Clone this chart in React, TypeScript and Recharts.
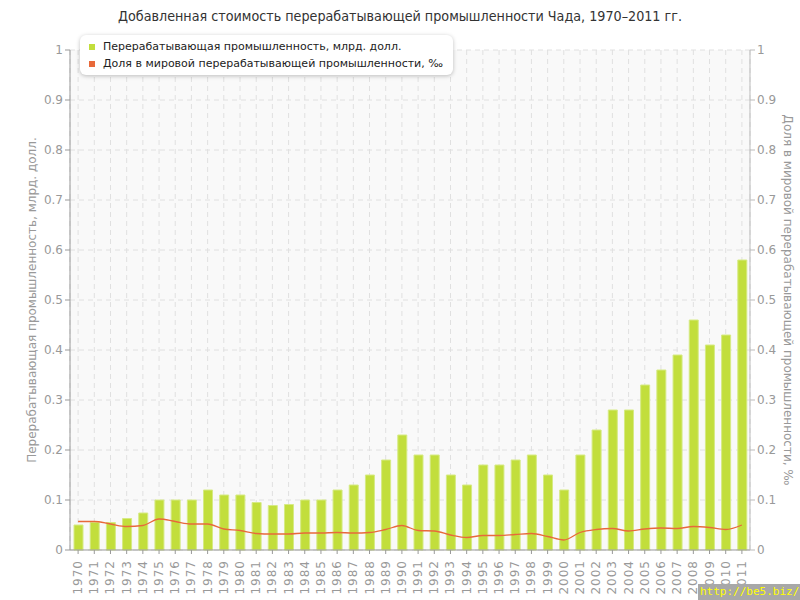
import React from "react";
import { ComposedChart, Bar, Line, XAxis, YAxis, CartesianGrid } from "recharts";

const years = [
  "1970","1971","1972","1973","1974","1975","1976","1977","1978","1979",
  "1980","1981","1982","1983","1984","1985","1986","1987","1988","1989",
  "1990","1991","1992","1993","1994","1995","1996","1997","1998","1999",
  "2000","2001","2002","2003","2004","2005","2006","2007","2008","2009",
  "2010","2011",
];
const valueAdded = [
  0.05, 0.055, 0.055, 0.063, 0.074, 0.1, 0.1, 0.1, 0.12, 0.11,
  0.11, 0.095, 0.089, 0.091, 0.1, 0.1, 0.12, 0.13, 0.15, 0.18,
  0.23, 0.19, 0.19, 0.15, 0.13, 0.17, 0.17, 0.18, 0.19, 0.15,
  0.12, 0.19, 0.24, 0.28, 0.28, 0.33, 0.36, 0.39, 0.46, 0.41,
  0.43, 0.58,
];
const worldShare = [
  0.057, 0.057, 0.052, 0.047, 0.049, 0.062, 0.057, 0.052, 0.052, 0.042,
  0.039, 0.033, 0.032, 0.032, 0.034, 0.034, 0.035, 0.034, 0.035, 0.041,
  0.049, 0.039, 0.038, 0.03, 0.025, 0.029, 0.029, 0.031, 0.033, 0.027,
  0.02, 0.035, 0.041, 0.043, 0.038, 0.042, 0.044, 0.043, 0.047, 0.045,
  0.041, 0.05,
];
const yTicks = [0, 0.1, 0.2, 0.3, 0.4, 0.5, 0.6, 0.7, 0.8, 0.9, 1];
const seriesNames = [
  "Перерабатывающая промышленность, млрд. долл.",
  "Доля в мировой перерабатывающей промышленности, ‰",
];
const title = "Добавленная стоимость перерабатывающей промышленности Чада, 1970–2011 гг.";
const leftLabel = "Перерабатывающая промышленность, млрд. долл.";
const rightLabel = "Доля в мировой перерабатывающей промышленности, ‰";

const data = years.map((y, i) => ({ year: y, va: valueAdded[i], share: worldShare[i] }));

const BAR_COLOR = "#c2de3c";
const LINE_COLOR = "#e8693a";
const FONT = "'DejaVu Sans', Verdana, sans-serif";

const LegendBox = () => (
  <div
    style={{
      position: "absolute",
      left: 80,
      top: 35,
      background: "#fff",
      borderRadius: 6,
      boxShadow: "0 1px 4px rgba(0,0,0,0.25)",
      padding: "3px 10px 3px 9px",
      fontFamily: FONT,
      fontSize: 11,
      color: "#222",
      lineHeight: "17px",
      whiteSpace: "nowrap",
      zIndex: 2,
    }}
  >
    {seriesNames.map((n, i) => (
      <div key={n} style={{ display: "flex", alignItems: "center" }}>
        <span
          style={{
            display: "inline-block",
            width: 6,
            height: 6,
            background: i === 0 ? BAR_COLOR : LINE_COLOR,
            marginRight: 8,
          }}
        />
        {n}
      </div>
    ))}
  </div>
);

const XTick = (props: any) => {
  const { x, y, payload } = props;
  return (
    <text
      x={x + 4}
      y={y + 4}
      transform={`rotate(-90 ${x + 4} ${y + 4})`}
      textAnchor="end"
      fontFamily={FONT}
      fontSize={12}
      fill="#999"
      letterSpacing={1}
    >
      {payload.value}
    </text>
  );
};

export default function App() {
  return (
    <div style={{ position: "absolute", left: 0, top: 0, width: 800, height: 600, background: "#fff" }}>
      <div
        style={{
          position: "absolute",
          top: 8,
          left: 0,
          width: 800,
          textAlign: "center",
          fontFamily: "'DejaVu Sans Condensed', 'DejaVu Sans', sans-serif",
          fontSize: 14.2,
          color: "#333",
        }}
      >
        {title}
      </div>
      <ComposedChart
        width={800}
        height={600}
        data={data}
        margin={{ top: 50, right: 0, bottom: 0, left: 0 }}
        barCategoryGap={0}
      >
        <CartesianGrid
          yAxisId="left"
          stroke="#e0e0e0"
          strokeDasharray="5 4"
          fill="#f9f9f9"
          horizontalValues={yTicks}
        />
        <XAxis
          dataKey="year"
          height={50}
          stroke="#999"
          tickLine={{ stroke: "#999" }}
          tickSize={4}
          interval={0}
          tick={<XTick />}
        />
        <YAxis
          yAxisId="left"
          width={70}
          domain={[0, 1]}
          ticks={yTicks}
          stroke="#999"
          tickSize={5}
          tick={{ fill: "#999", fontSize: 12, fontFamily: FONT }}
          label={{
            value: leftLabel,
            angle: -90,
            position: "insideLeft",
            offset: 32,
            style: { textAnchor: "middle", fill: "#999", fontSize: 12, fontFamily: FONT },
          }}
        />
        <YAxis
          yAxisId="right"
          orientation="right"
          width={50}
          domain={[0, 1]}
          ticks={yTicks}
          stroke="#bbb"
          tickSize={5}
          tick={{ fill: "#999", fontSize: 12, fontFamily: FONT }}
          label={{
            value: rightLabel,
            angle: 90,
            position: "insideRight",
            offset: 12,
            style: { textAnchor: "middle", fill: "#999", fontSize: 12, fontFamily: FONT },
          }}
        />
        <Bar
          yAxisId="left"
          dataKey="va"
          name={seriesNames[0]}
          fill={BAR_COLOR}
          stroke="#d6ea84"
          strokeWidth={1}
          barSize={9}
          isAnimationActive={false}
        />
        <Line
          yAxisId="right"
          dataKey="share"
          name={seriesNames[1]}
          type="monotone"
          stroke={LINE_COLOR}
          strokeWidth={1.3}
          dot={false}
          activeDot={false}
          isAnimationActive={false}
        />
      </ComposedChart>
      <LegendBox />
      <div
        style={{
          position: "absolute",
          left: 698,
          top: 584,
          width: 102,
          height: 16,
          background: "#a8a8a8",
          color: "#ffff00",
          fontFamily: "'DejaVu Sans Mono', monospace",
          fontSize: 11,
          lineHeight: "16px",
          paddingLeft: 2,
          boxSizing: "border-box",
          whiteSpace: "nowrap",
          overflow: "hidden",
        }}
      >
        http://be5.biz/
      </div>
    </div>
  );
}
